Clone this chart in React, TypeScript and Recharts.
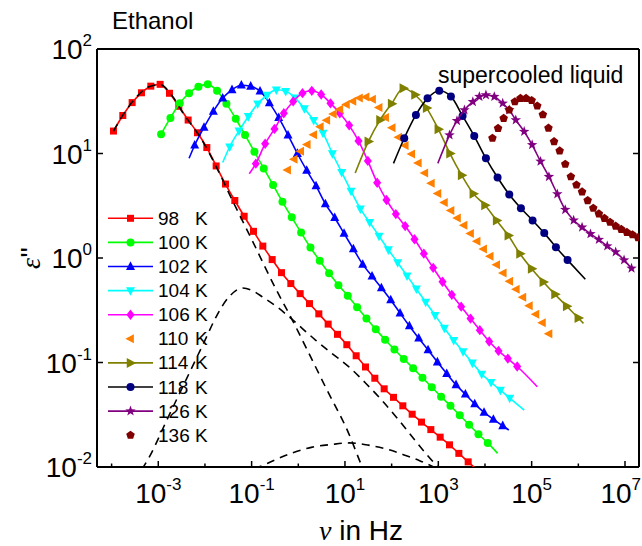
import React from "react";
import { ScatterChart, Scatter, XAxis, YAxis } from "recharts";

const FONT = "'Liberation Sans', Arial, Helvetica, sans-serif";

// log10(nu / Hz) and eps'', one pair per temperature
const logF98 = [-3.96, -3.76, -3.56, -3.36, -3.16, -2.96, -2.76, -2.56, -2.36, -2.16, -1.96, -1.76, -1.56, -1.36, -1.16, -0.96, -0.76, -0.56, -0.36, -0.16, 0.04, 0.24, 0.44, 0.64, 0.84, 1.04, 1.24, 1.44, 1.64, 1.84, 2.04, 2.24, 2.44, 2.64, 2.84, 3.04, 3.24, 3.44, 3.64];
const eps98 = [16.4, 23.1, 30.7, 38.1, 44.1, 45.9, 37.7, 28.3, 20.9, 15.8, 11.4, 7.6, 5.1, 3.55, 2.51, 1.8, 1.3, 0.966, 0.724, 0.569, 0.456, 0.366, 0.292, 0.233, 0.186, 0.148, 0.116, 0.0906, 0.0707, 0.056, 0.0464, 0.0385, 0.032, 0.0269, 0.0228, 0.0193, 0.0163, 0.0135, 0.0112];
const fit98 = [[3.84, 0.0093]];

const logF100 = [-2.94, -2.74, -2.54, -2.34, -2.14, -1.94, -1.74, -1.54, -1.34, -1.14, -0.94, -0.74, -0.54, -0.34, -0.14, 0.06, 0.26, 0.46, 0.66, 0.86, 1.06, 1.26, 1.46, 1.66, 1.86, 2.06, 2.26, 2.46, 2.66, 2.86, 3.06, 3.26, 3.46, 3.66, 3.86, 4.06];
const eps100 = [15.3, 21.9, 30.2, 37.8, 43.6, 45.9, 39.8, 30.0, 21.5, 15.0, 10.4, 7.2, 5.0, 3.45, 2.45, 1.75, 1.26, 0.942, 0.714, 0.55, 0.436, 0.337, 0.264, 0.208, 0.165, 0.133, 0.108, 0.0883, 0.0716, 0.058, 0.0471, 0.0385, 0.0313, 0.0254, 0.0206, 0.017];
const fit100 = [[4.27, 0.0135]];

const logF102 = [-2.22, -2.02, -1.82, -1.62, -1.42, -1.22, -1.02, -0.82, -0.62, -0.42, -0.22, -0.02, 0.18, 0.38, 0.58, 0.78, 0.98, 1.18, 1.38, 1.58, 1.78, 1.98, 2.18, 2.38, 2.58, 2.78, 2.98, 3.18, 3.38, 3.58, 3.78, 3.98, 4.18, 4.38];
const eps102 = [12.0, 17.8, 25.3, 33.9, 40.7, 45.0, 44.0, 39.5, 30.5, 22.0, 15.0, 10.0, 6.9, 4.9, 3.3, 2.43, 1.72, 1.22, 0.869, 0.67, 0.518, 0.397, 0.297, 0.224, 0.171, 0.132, 0.101, 0.0783, 0.0612, 0.0497, 0.0402, 0.0333, 0.0286, 0.0248];
const fit102 = [[-2.34, 9.0], [4.51, 0.0226]];

const logF104 = [-1.47, -1.27, -1.07, -0.87, -0.67, -0.47, -0.27, -0.07, 0.13, 0.33, 0.53, 0.73, 0.93, 1.13, 1.33, 1.53, 1.73, 1.93, 2.13, 2.33, 2.53, 2.73, 2.93, 3.13, 3.33, 3.53, 3.73, 3.93, 4.13, 4.33, 4.53];
const eps104 = [11.6, 16.5, 22.6, 29.9, 36.1, 40.7, 39.4, 34.1, 26.9, 20.8, 15.7, 10.0, 6.6, 4.37, 2.95, 2.19, 1.62, 1.2, 0.902, 0.675, 0.506, 0.378, 0.283, 0.213, 0.163, 0.127, 0.099, 0.0776, 0.0646, 0.0543, 0.0457];
const fit104 = [[-1.62, 8.2], [4.84, 0.035]];

const logF106 = [-0.91, -0.71, -0.51, -0.31, -0.11, 0.09, 0.29, 0.49, 0.69, 0.89, 1.09, 1.29, 1.49, 1.69, 1.89, 2.09, 2.29, 2.49, 2.69, 2.89, 3.09, 3.29, 3.49, 3.69, 3.89, 4.09, 4.29, 4.49, 4.69];
const eps106 = [8.0, 12.4, 17.2, 24.3, 31.5, 37.8, 39.8, 36.7, 30.2, 24.3, 18.6, 13.2, 8.5, 5.25, 3.59, 2.63, 2.02, 1.51, 1.1, 0.805, 0.592, 0.444, 0.342, 0.263, 0.204, 0.159, 0.129, 0.109, 0.0916];
const fit106 = [[-1.05, 6.4], [5.12, 0.0587]];

const logF110 = [-0.23, -0.09, 0.05, 0.19, 0.33, 0.47, 0.61, 0.75, 0.89, 1.03, 1.17, 1.31, 1.45, 1.59, 1.73, 1.87, 2.01, 2.15, 2.29, 2.43, 2.57, 2.71, 2.85, 2.99, 3.13, 3.27, 3.41, 3.55, 3.69, 3.83, 3.97, 4.11, 4.25, 4.39, 4.53, 4.67, 4.81, 4.95, 5.09, 5.23, 5.37];
const eps110 = [6.95, 8.8, 10.5, 12.2, 15.1, 18.0, 20.8, 23.9, 26.5, 29.5, 31.6, 33.9, 34.7, 33.1, 27.5, 22.1, 17.6, 14.3, 11.9, 9.9, 8.1, 6.5, 5.2, 4.15, 3.4, 2.85, 2.42, 2.06, 1.72, 1.45, 1.22, 1.04, 0.863, 0.719, 0.598, 0.501, 0.42, 0.349, 0.29, 0.24, 0.188];

const logF114 = [1.5, 1.75, 2.0, 2.25, 2.5, 2.75, 3.0, 3.25, 3.5, 3.75, 4.0, 4.25, 4.5, 4.75, 5.0, 5.25, 5.5, 5.75, 6.0];
const eps114 = [13.0, 20.9, 30.0, 42.1, 36.5, 27.2, 17.1, 9.98, 6.2, 4.13, 3.2, 2.29, 1.64, 1.1, 0.79, 0.59, 0.449, 0.346, 0.266];
const fit114 = [[1.22, 6.5], [6.11, 0.237]];

const logF118 = [2.27, 2.52, 2.77, 3.02, 3.27, 3.52, 3.77, 4.02, 4.27, 4.52, 4.77, 5.02, 5.27, 5.52, 5.77];
const eps118 = [14.0, 23.4, 33.7, 39.8, 35.2, 22.9, 14.7, 9.0, 5.9, 4.05, 2.99, 2.29, 1.73, 1.27, 0.955];
const fit118 = [[2.04, 8.05], [6.15, 0.625]];

const logF126 = [3.24, 3.4, 3.56, 3.74, 3.88, 4.02, 4.2, 4.38, 4.52, 4.66, 4.84, 5.01, 5.19, 5.37, 5.55, 5.72, 5.9, 6.08, 6.26, 6.44, 6.62, 6.8, 6.98, 7.14];
const eps126 = [15.0, 20.6, 26.1, 31.3, 35.0, 36.3, 35.0, 30.2, 26.1, 20.9, 16.2, 12.1, 8.4, 6.0, 4.1, 2.9, 2.3, 1.97, 1.7, 1.5, 1.3, 1.14, 0.955, 0.796];
const fit126 = [[2.99, 8.05]];

const logF136 = [4.16, 4.28, 4.4, 4.52, 4.64, 4.76, 4.88, 5.0, 5.12, 5.24, 5.36, 5.48, 5.6, 5.72, 5.84, 5.96, 6.08, 6.2, 6.32, 6.44, 6.56, 6.68, 6.8, 6.92, 7.04, 7.16, 7.28];
const eps136 = [14.0, 17.4, 21.7, 26.1, 31.3, 33.7, 33.7, 32.2, 28.5, 23.5, 17.5, 13.0, 10.6, 7.9, 6.0, 5.0, 4.3, 3.55, 3.0, 2.65, 2.4, 2.2, 2.02, 1.88, 1.76, 1.67, 1.57];

// dashed fit components of the 98 K spectrum
const alphaLogF = [-3.96, -3.7, -3.46, -3.2, -2.96, -2.7, -2.47, -2.07, -1.72, -1.4, -1.0, -0.5, -0.128, 0.156, 0.58, 1.079, 1.37, 1.45];
const alphaEps = [16.4, 25.5, 35, 43.6, 45.5, 35.5, 24.4, 13.6, 6.9, 3.47, 1.51, 0.525, 0.255, 0.142, 0.0586, 0.021, 0.01, 0.0083];
const betaLogF = [-3.35, -3.2, -2.8, -2.4, -2.0, -1.76, -1.5, -1.19, -0.95, -0.766, -0.45, -0.19, 0.1, 0.368, 0.7, 1.079, 1.45, 1.787, 2.15, 2.496, 2.75, 2.99, 3.1];
const betaEps = [0.0095, 0.0123, 0.0292, 0.069, 0.163, 0.274, 0.417, 0.516, 0.479, 0.424, 0.339, 0.272, 0.209, 0.164, 0.124, 0.0912, 0.063, 0.0437, 0.0282, 0.0181, 0.0132, 0.01, 0.0089];
const wingLogF = [-0.95, -0.85, -0.5, -0.1, 0.3, 0.7, 1.09, 1.5, 1.9, 2.3, 2.6, 2.9, 3.0];
const wingEps = [0.0097, 0.01, 0.0117, 0.0138, 0.0155, 0.0164, 0.017, 0.0162, 0.0148, 0.0129, 0.0115, 0.01, 0.0095];

const xTicks = [1e-4, 1e-3, 1e-2, 1e-1, 1, 1e1, 1e2, 1e3, 1e4, 1e5, 1e6, 1e7];
const yTicks = [0.01, 0.1, 1, 10, 100];

type Kind = "square" | "circle" | "up" | "down" | "diamond" | "left" | "right" | "star" | "pentagon";

interface Series {
  label: string;
  kind: Kind;
  color: string;
  line: string | null;
  size: number;
  logF: number[];
  eps: number[];
  fit: number[][];
}

const SERIES: Series[] = [
  { label: "98", kind: "square", color: "#ff0000", line: "#ff0000", size: 7, logF: logF98, eps: eps98, fit: fit98 },
  { label: "100", kind: "circle", color: "#00ff00", line: "#00ff00", size: 8, logF: logF100, eps: eps100, fit: fit100 },
  { label: "102", kind: "up", color: "#0000ff", line: "#0000ff", size: 9, logF: logF102, eps: eps102, fit: fit102 },
  { label: "104", kind: "down", color: "#00ffff", line: "#00ffff", size: 9, logF: logF104, eps: eps104, fit: fit104 },
  { label: "106", kind: "diamond", color: "#ff00ff", line: "#ff00ff", size: 9, logF: logF106, eps: eps106, fit: fit106 },
  { label: "110", kind: "left", color: "#ff8000", line: null, size: 9, logF: logF110, eps: eps110, fit: [] },
  { label: "114", kind: "right", color: "#808000", line: "#808000", size: 10, logF: logF114, eps: eps114, fit: fit114 },
  { label: "118", kind: "circle", color: "#000080", line: "#000000", size: 8, logF: logF118, eps: eps118, fit: fit118 },
  { label: "126", kind: "star", color: "#800080", line: "#800080", size: 10, logF: logF126, eps: eps126, fit: fit126 },
  { label: "136", kind: "pentagon", color: "#800000", line: null, size: 9, logF: logF136, eps: eps136, fit: [] },
];

const toPoints = (logF: number[], eps: number[]) =>
  logF.map((lf, i) => ({ x: Math.pow(10, lf), y: eps[i] }));

function linePoints(s: Series) {
  const pts = s.logF.map((lf, i) => [lf, s.eps[i]]).concat(s.fit);
  pts.sort((a, b) => a[0] - b[0]);
  return pts.map((p) => ({ x: Math.pow(10, p[0]), y: p[1] }));
}

function polyPath(kind: Kind, cx: number, cy: number, s: number) {
  const r = s / 2;
  let pts: number[][] = [];
  if (kind === "up") pts = [[0, -r * 1.15], [r, r * 0.75], [-r, r * 0.75]];
  if (kind === "down") pts = [[0, r * 1.15], [r, -r * 0.75], [-r, -r * 0.75]];
  if (kind === "left") pts = [[-r * 1.15, 0], [r * 0.75, -r], [r * 0.75, r]];
  if (kind === "right") pts = [[r * 1.15, 0], [-r * 0.75, -r], [-r * 0.75, r]];
  if (kind === "diamond") pts = [[0, -r * 1.15], [r * 0.9, 0], [0, r * 1.15], [-r * 0.9, 0]];
  if (kind === "star") {
    for (let i = 0; i < 10; i++) {
      const a = ((-90 + 36 * i) * Math.PI) / 180;
      const rr = i % 2 ? r * 0.45 : r * 1.1;
      pts.push([rr * Math.cos(a), rr * Math.sin(a)]);
    }
  }
  if (kind === "pentagon") {
    for (let i = 0; i < 5; i++) {
      const a = ((-90 + 72 * i) * Math.PI) / 180;
      pts.push([r * Math.cos(a), r * Math.sin(a)]);
    }
  }
  return "M" + pts.map((p) => `${cx + p[0]},${cy + p[1]}`).join("L") + "Z";
}

function Marker({ kind, cx, cy, color, s }: { kind: Kind; cx: number; cy: number; color: string; s: number }) {
  if (cx == null || cy == null) return <g />;
  if (kind === "square") return <rect x={cx - s / 2} y={cy - s / 2} width={s} height={s} fill={color} />;
  if (kind === "circle") return <circle cx={cx} cy={cy} r={s / 2} fill={color} />;
  return <path d={polyPath(kind, cx, cy, s)} fill={color} />;
}

const expOf = (v: number) => Math.round(Math.log10(v));

function BottomTick(props: any) {
  const { x, y, payload } = props;
  const e = expOf(payload.value);
  const major = Math.abs(e % 2) === 1;
  // last label sits on the right edge, keep it inside the page
  const last = e === 7;
  return (
    <g>
      <line x1={x} x2={x} y1={y} y2={y - (major ? 6 : 3.5)} stroke="#000" strokeWidth={1.5} />
      {major && (
        <text
          x={last ? 641 : x}
          y={y + 36}
          textAnchor={last ? "end" : "middle"}
          fontSize={28}
          fontFamily={FONT}
          fill="#000"
        >
          10<tspan dy={-13} fontSize={17}>{e}</tspan>
        </text>
      )}
    </g>
  );
}

function TopTick(props: any) {
  const { x, y, payload } = props;
  const major = Math.abs(expOf(payload.value) % 2) === 1;
  return <line x1={x} x2={x} y1={y} y2={y + (major ? 6 : 3.5)} stroke="#000" strokeWidth={1.5} />;
}

function LeftTick(props: any) {
  const { x, y, payload } = props;
  const e = expOf(payload.value);
  return (
    <g>
      <line x1={x} x2={x + 6} y1={y} y2={y} stroke="#000" strokeWidth={1.5} />
      <text x={x - 5} y={y + 10} textAnchor="end" fontSize={28} fontFamily={FONT} fill="#000">
        10<tspan dy={-13} fontSize={17}>{e}</tspan>
      </text>
    </g>
  );
}

function RightTick(props: any) {
  const { x, y } = props;
  return <line x1={x} x2={x - 6} y1={y} y2={y} stroke="#000" strokeWidth={1.5} />;
}

const xDomain = [Math.pow(10, -4.313), Math.pow(10, 7.3)];
const yDomain = [0.01, 100];

const dashed = [
  { key: "alpha", logF: alphaLogF, eps: alphaEps },
  { key: "beta", logF: betaLogF, eps: betaEps },
  { key: "wing", logF: wingLogF, eps: wingEps },
];

export default function App() {
  const items: React.ReactNode[] = [];
  SERIES.forEach((s) => {
    if (s.line) {
      items.push(
        <Scatter
          key={s.label + "-line"}
          data={linePoints(s)}
          line={{ stroke: s.line, strokeWidth: 1.6 }}
          lineJointType="monotoneX"
          shape={() => <g />}
          isAnimationActive={false}
        />
      );
    }
    items.push(
      <Scatter
        key={s.label + "-pts"}
        data={toPoints(s.logF, s.eps)}
        shape={(p: any) => <Marker kind={s.kind} cx={p.cx} cy={p.cy} color={s.color} s={s.size} />}
        isAnimationActive={false}
      />
    );
  });
  dashed.forEach((d) => {
    items.push(
      <Scatter
        key={d.key}
        data={toPoints(d.logF, d.eps)}
        line={{ stroke: "#000", strokeWidth: 1.6, strokeDasharray: "8 6" }}
        lineJointType="monotoneX"
        shape={() => <g />}
        isAnimationActive={false}
      />
    );
  });

  return (
    <div style={{ position: "relative", width: 642, height: 546, background: "#fff" }}>
      <style>{`body{margin:0;background:#fff}`}</style>
      <ScatterChart width={642} height={546} margin={{ top: 0, right: 0, bottom: 0, left: 0 }}>
        <XAxis
          dataKey="x"
          type="number"
          scale="log"
          domain={xDomain}
          allowDataOverflow
          ticks={xTicks}
          interval={0}
          height={79}
          tickSize={0}
          tickMargin={0}
          tick={<BottomTick />}
          axisLine={{ stroke: "#000", strokeWidth: 2 }}
        />
        <XAxis
          xAxisId="top"
          orientation="top"
          type="number"
          scale="log"
          domain={xDomain}
          allowDataOverflow
          ticks={xTicks}
          interval={0}
          height={49}
          tickSize={0}
          tickMargin={0}
          tick={<TopTick />}
          axisLine={{ stroke: "#000", strokeWidth: 2 }}
        />
        <YAxis
          dataKey="y"
          type="number"
          scale="log"
          domain={yDomain}
          allowDataOverflow
          ticks={yTicks}
          interval={0}
          width={97}
          tickSize={0}
          tickMargin={0}
          tick={<LeftTick />}
          axisLine={{ stroke: "#000", strokeWidth: 2 }}
        />
        <YAxis
          yAxisId="right"
          orientation="right"
          type="number"
          scale="log"
          domain={yDomain}
          allowDataOverflow
          ticks={yTicks}
          interval={0}
          width={3}
          tickSize={0}
          tickMargin={0}
          tick={<RightTick />}
          axisLine={{ stroke: "#000", strokeWidth: 2 }}
        />
        {items}
      </ScatterChart>

      <svg
        width={642}
        height={546}
        style={{ position: "absolute", left: 0, top: 0, pointerEvents: "none" }}
        fontFamily={FONT}
      >
        <text x={112} y={29} fontSize={24} fill="#000">Ethanol</text>
        <text x={438} y={83} fontSize={23} fill="#000">supercooled liquid</text>
        <text x={361} y={540} fontSize={28} textAnchor="middle" fill="#000">
          <tspan fontStyle="italic" fontFamily="'Liberation Serif', serif">ν</tspan> in Hz
        </text>
        <text transform="translate(40,258) rotate(-90)" fontSize={28} textAnchor="middle" fill="#000">
          <tspan fontStyle="italic" fontFamily="'Liberation Serif', serif">ε</tspan>''
        </text>
        {SERIES.map((s, i) => {
          const cy = 218.3 + 24.1 * i;
          return (
            <g key={s.label}>
              {s.line && <line x1={108} x2={153} y1={cy} y2={cy} stroke={s.line} strokeWidth={1.6} />}
              <Marker kind={s.kind} cx={130.5} cy={cy} color={s.color} s={s.size} />
              <text x={158} y={cy + 6.5} fontSize={19} fill="#000">{s.label}</text>
              <text x={195} y={cy + 6.5} fontSize={19} fill="#000">K</text>
            </g>
          );
        })}
      </svg>
    </div>
  );
}
